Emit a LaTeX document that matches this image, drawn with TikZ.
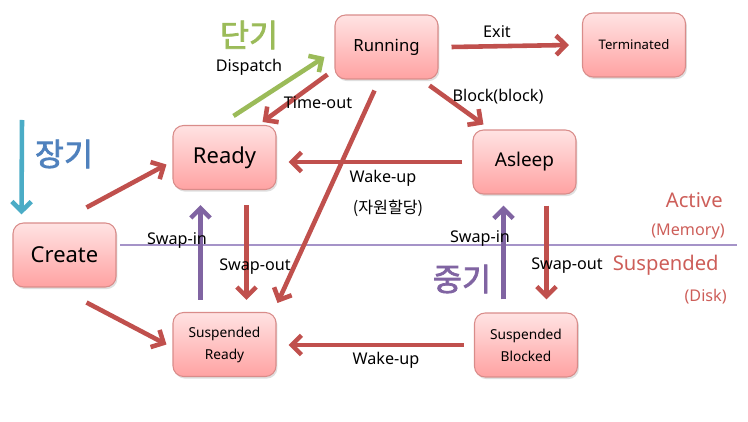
\documentclass[tikz,border=0pt]{standalone}
\usepackage{fontspec}
\setmainfont{Noto Sans}
\newfontfamily\kofont{Noto Sans CJK KR}
\newfontfamily\koboldfont[FakeBold=2.2]{Noto Sans CJK KR}
\usetikzlibrary{arrows.meta,calc,shadows}
\definecolor{flowred}{HTML}{C0504D}
\definecolor{flowgreen}{HTML}{9BBB59}
\definecolor{flowpurple}{HTML}{8064A2}
\definecolor{flowcyan}{HTML}{4BACC6}
\definecolor{longblue}{HTML}{4F81BD}
\definecolor{arealabel}{HTML}{CD5E59}
\definecolor{boxtop}{HTML}{FFE3E3}
\definecolor{boxbottom}{HTML}{FFA2A2}
\definecolor{boxline}{HTML}{D98C8A}
\definecolor{divline}{HTML}{A593C8}
\tikzset{
  state/.style={rectangle, rounded corners=6pt, draw=boxline, line width=0.6pt,
    top color=boxtop, bottom color=boxbottom, minimum width=2.06cm,
    minimum height=1.28cm, inner sep=0pt, align=center,
    drop shadow={opacity=0.25, shadow xshift=0.8pt, shadow yshift=-1.2pt}},
  flow/.style={line width=2.6pt, draw=flowred,
    -{Straight Barb[length=5.5pt,width=11pt]}},
  label/.style={font=\fontsize{9.2}{10}\selectfont, inner sep=0pt},
  period/.style={font=\koboldfont\fontsize{18}{20}\selectfont, inner sep=0pt}
}
\begin{document}
\begin{tikzpicture}[x=0.02cm, y=-0.02cm]
  \useasboundingbox (0,0) rectangle (748,422);
  \draw
    (386.5,47) node[state, font=\fontsize{9.5}{11}\selectfont] (Running){Running}
    (634,45) node[state, font=\fontsize{7.5}{9}\selectfont] (Terminated){Terminated}
    (224.5,157.5) node[state, font=\fontsize{12.5}{14}\selectfont] (Ready){Ready}
    (524.5,162) node[state, font=\fontsize{10.8}{12}\selectfont] (Asleep){Asleep}
    (64.5,255) node[state, font=\fontsize{12.5}{14}\selectfont] (Create){Create}
    (224.5,344.5) node[state, font=\fontsize{7.8}{12.5}\selectfont] (SusReady){Suspended\\Ready}
    (526,345) node[state, font=\fontsize{7.8}{12.5}\selectfont] (SusBlocked){Suspended\\Blocked};
  \coordinate (memL) at (120,245);
  \coordinate (memR) at (737,245);
  \coordinate (longTop) at (22,120);
  \draw[divline, line width=0.6pt] (memL) -- (memR);
  \begin{scope}[flow]
    \draw ($(Running.east)+(13,0)$) -- ($(Terminated.west)+(-13,0)$);
    \draw ($(Running.south west)+(-7,-5)$) -- ($(Ready.north east)+(-14,-3)$);
    \draw ($(Running.south)+(-12,11)$) -- ($(SusReady.north east)+(1,-9)$);
    \draw ($(Running.south east)+(-9,6)$) -- ($(Asleep.north west)+(11,-5)$);
    \draw ($(Asleep.west)+(-10,0)$) -- ($(Asleep.west -| Ready.east)+(12,0)$);
    \draw ($(Create.north east)+(-30,-15)$) -- ($(Ready.west)+(-6,7)$);
    \draw ($(Create.south east)+(-30,15)$) -- ($(SusReady.west)+(-6,0)$);
    \draw ($(Ready.south)+(22,15)$) -- ($(SusReady.north)+(22,-12)$);
    \draw ($(Asleep.south)+(22,11)$) -- ($(Asleep.south |- SusBlocked.north)+(22,-13)$);
    \draw ($(SusBlocked.west)+(-10,0)$) -- ($(SusBlocked.west -| SusReady.east)+(12,0)$);
    \draw[flowgreen] ($(Ready.north)+(9,-9)$) -- ($(Running.west)+(-10,10)$);
    \draw[flowpurple] ($(SusReady.north)+(-24,-12)$) -- ($(Ready.south)+(-24,15)$);
    \draw[flowpurple] ($(Asleep.south |- SusBlocked.north)+(-21,-13)$) -- ($(Asleep.south)+(-21,11)$);
    \draw[flowcyan] (longTop) -- ($(Create.north west)+(9,-8)$);
  \end{scope}
  \node[period, text=flowgreen] (shortTerm) at (249,35) {단기};
  \node[period, text=longblue] (longTerm) at (64,154) {장기};
  \node[period, text=flowpurple] (midTerm) at (462,279) {중기};
  \node[label] (exitLabel) at (497,32) {Exit};
  \node[label] (dispatchLabel) at (249,67) {Dispatch};
  \node[label] (timeoutLabel) at (318,103) {Time-out};
  \node[label] (blockLabel) at (498,97) {Block(block)};
  \node[label] (wakeLabel) at (383,178) {Wake-up};
  \node[label, font=\kofont\fontsize{9.2}{10}\selectfont] (allocLabel) at (388,208) {(자원할당)};
  \node[label] (swapinL) at (177,240) {Swap-in};
  \node[label] (swapoutL) at (255,267) {Swap-out};
  \node[label] (swapinR) at (480,238) {Swap-in};
  \node[label] (swapoutR) at (567,266) {Swap-out};
  \node[label] (wakeBottom) at (386,360) {Wake-up};
  \node[label, anchor=east, text=arealabel, font=\fontsize{11.5}{13}\selectfont] (activeLabel) at (723,200) {Active};
  \node[label, anchor=east, text=arealabel] (memLabel) at (725,232) {(Memory)};
  \node[label, anchor=east, text=arealabel, font=\fontsize{11.5}{13}\selectfont] (suspLabel) at (719,265) {Suspended};
  \node[label, anchor=east, text=arealabel] (diskLabel) at (727,297) {(Disk)};
\end{tikzpicture}
\end{document}
